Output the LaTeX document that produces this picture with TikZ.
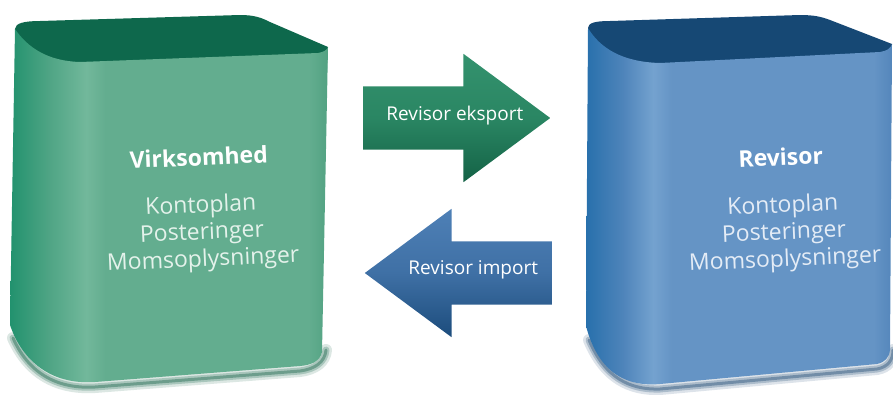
\documentclass[tikz,border=0pt]{standalone}
\usepackage{fontspec}
\setmainfont{Open Sans}
\usetikzlibrary{shapes.arrows,calc}

\definecolor{gTop}{RGB}{14,104,76}
\definecolor{gDark}{RGB}{34,146,110}
\definecolor{gMid}{RGB}{78,164,132}
\definecolor{gHl}{RGB}{114,184,155}
\definecolor{gBase}{RGB}{99,173,143}
\definecolor{gEdge}{RGB}{82,162,130}
\definecolor{gShadow}{RGB}{18,96,68}
\definecolor{gText}{RGB}{228,242,235}
\definecolor{gArr}{RGB}{42,134,99}
\definecolor{gArrL}{RGB}{52,146,110}
\definecolor{gArrD}{RGB}{20,98,70}

\definecolor{bTop}{RGB}{22,72,116}
\definecolor{bDark}{RGB}{40,112,172}
\definecolor{bMid}{RGB}{78,132,186}
\definecolor{bHl}{RGB}{116,162,207}
\definecolor{bBase}{RGB}{101,148,197}
\definecolor{bEdge}{RGB}{84,134,187}
\definecolor{bShadow}{RGB}{26,70,112}
\definecolor{bText}{RGB}{228,236,246}
\definecolor{bArr}{RGB}{63,112,165}
\definecolor{bArrL}{RGB}{78,128,182}
\definecolor{bArrD}{RGB}{28,76,124}

\pgfdeclarehorizontalshading{gfront}{100bp}{color(0bp)=(gDark); color(25bp)=(gDark);
  color(31bp)=(gMid); color(37bp)=(gHl); color(40bp)=(gBase); color(72bp)=(gBase);
  color(75bp)=(gEdge); color(100bp)=(gEdge)}
\pgfdeclarehorizontalshading{bfront}{100bp}{color(0bp)=(bDark); color(25bp)=(bDark);
  color(31bp)=(bMid); color(36bp)=(bHl); color(39bp)=(bBase); color(72bp)=(bBase);
  color(75bp)=(bEdge); color(100bp)=(bEdge)}

\tikzset{
  boxtext/.style={align=center, inner sep=0pt, rotate=2.5,
    font=\fontsize{23}{27}\selectfont},
  blockarrow/.style={single arrow, inner xsep=0pt, inner ysep=31.5pt,
    minimum height=187pt, single arrow head extend=32.5pt,
    single arrow tip angle=73},
  arrowtext/.style={text=white, inner sep=0pt, font=\fontsize{19}{22}\selectfont},
}

\begin{document}
\begin{tikzpicture}[x=1pt,y=-1pt]
    \useasboundingbox (0,0) rectangle (893,394);
    \foreach \w/\o in {12/0.15,7/0.25,3/0.4}
    {
        \draw [line width=\w pt, draw opacity=\o, gShadow, line cap=round] (13,338) .. controls (30,376) and (60,389) .. (95,387) -- (300,371) .. controls (315,369) and (325,362) .. (326,350);
        \draw [line width=\w pt, draw opacity=\o, bShadow, line cap=round] (589,340) .. controls (605,378) and (630,390) .. (660,389) -- (877,369) .. controls (888,367) and (893,360) .. (893,350);
    }
    \fill [gTop] (15,29) .. controls (15,23) and (25,21) .. (40,21) -- (240,15) .. controls (255,15) and (262,18) .. (270,22) -- (328,47) -- (326,90) -- (15,90) -- cycle;
    \shade [shading=gfront] (15,29) .. controls (28,48) and (48,61) .. (80,62) -- (318,53) .. controls (324,52) and (327,50) .. (328,47) -- (322,352) .. controls (320,361) and (312,365) .. (300,366) -- (95,382) .. controls (50,385) and (22,360) .. (10,325) -- cycle;
    \fill [bTop] (588,28) .. controls (588,23) and (595,21) .. (610,21) -- (800,15) .. controls (815,15) and (822,17) .. (830,20) -- (892,44) -- (891,90) -- (588,90) -- cycle;
    \shade [shading=bfront] (588,28) .. controls (600,48) and (622,62) .. (660,63) -- (880,52) .. controls (887,51) and (891,48) .. (892,44) -- (890,350) .. controls (889,358) and (885,362) .. (877,364) -- (660,384) .. controls (615,388) and (595,360) .. (586,326) -- cycle;

    \node [boxtext, text=gText] (virk) at (201,210) {\textcolor{white}{\bfseries Virksomhed}\\[20pt]Kontoplan\\Posteringer\\Momsoplysninger};
    \node [boxtext, text=bText] (rev) at (783,210) {\textcolor{white}{\bfseries Revisor}\\[20pt]Kontoplan\\Posteringer\\Momsoplysninger};

    \node [blockarrow, anchor=tail, top color=gArrL, bottom color=gArrD, middle color=gArr] (eksport) at (363,118) {};
    \node [blockarrow, anchor=tail, shape border rotate=180, top color=bArrL, bottom color=bArrD, middle color=bArr] (import) at (552,273) {};
    \node [arrowtext] (eksportlbl) at ($(eksport.tail)!0.49!(eksport.tip) + (0,-2)$) {Revisor eksport};
    \node [arrowtext] (importlbl) at ($(import.tail)!0.42!(import.tip) + (0,-3)$) {Revisor import};
\end{tikzpicture}
\end{document}
